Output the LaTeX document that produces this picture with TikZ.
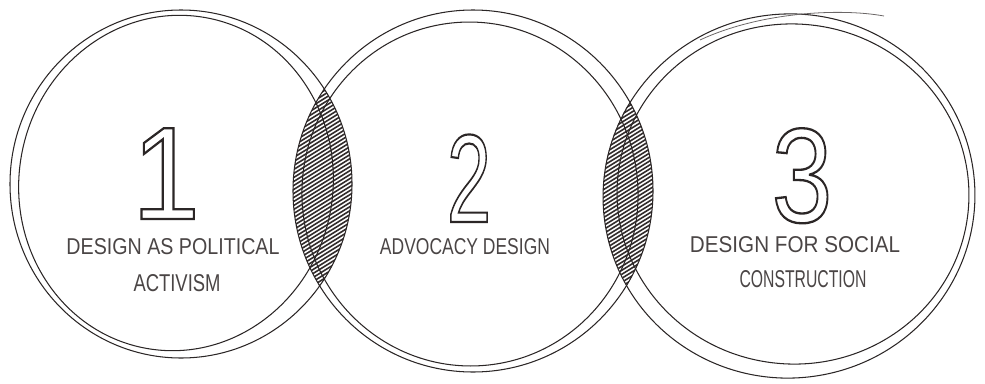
\documentclass[tikz,border=0pt]{standalone}
\usepackage{fontspec}
\setmainfont{Liberation Sans}
\usepackage{graphicx}
\definecolor{ink}{HTML}{2B2626}
\definecolor{txt}{HTML}{4A4545}
\definecolor{hatchc}{HTML}{322C2C}
\tikzset{
  rim/.style={draw=ink, line width=1.05pt},
  rimlight/.style={draw=ink!70, line width=0.8pt},
  hatchline/.style={draw=hatchc, line width=1.6pt},
  lab/.style={text=txt, inner sep=0pt, anchor=center},
  num/.style={text=ink, inner sep=0pt, anchor=base, font=\fontsize{128}{128}\selectfont}
}
\newcommand{\hollow}[1]{\special{pdf:code 1 Tr 2.2 w}#1\special{pdf:code 0 Tr}}
\begin{document}
\begin{tikzpicture}[x=1pt,y=-1pt]
\useasboundingbox (0,0) rectangle (985,383);
% hatched lens 1
\begin{scope}
  \clip (181,184) ellipse [x radius=171pt, y radius=174pt];
  \clip (473,191) ellipse [x radius=180pt, y radius=181pt];
  \foreach \k in {0,...,80} \draw[hatchline] (280,{50+4*\k}) -- ++(100,-62);
\end{scope}
% hatched lens 2
\begin{scope}
  \clip (473,191) ellipse [x radius=180pt, y radius=181pt];
  \clip (789,196) ellipse [x radius=186pt, y radius=182pt];
  \foreach \k in {0,...,80} \draw[hatchline] (590,{50+4*\k}) -- ++(100,-62);
\end{scope}
% circle 1
\draw[rim] (181,184) ellipse [x radius=171pt, y radius=174pt];
\draw[rim, rotate around={-10:(176,183)}] (176,183) ellipse [x radius=157pt, y radius=168pt];
% circle 2
\draw[rim] (473,191) ellipse [x radius=180pt, y radius=181pt];
\draw[rim, rotate around={6:(470,194)}] (470,194) ellipse [x radius=168pt, y radius=172pt];
% circle 3
\draw[rim, rotate around={8:(789,196)}] (789,196) ellipse [x radius=186pt, y radius=182pt];
\draw[rim, rotate around={-6:(793,194)}] (793,194) ellipse [x radius=176pt, y radius=170pt];
\draw[rimlight] (700,40) .. controls (760,12) and (840,8) .. (884,16);
% numbers
\node[num] (n1) at (166,219) {\scalebox{0.95}[1.03]{\hollow{1}}};
\node[num] (n2) at (469,222) {\scalebox{0.62}[0.98]{\hollow{2}}};
\node[num] (n3) at (802,222) {\scalebox{0.85}[1.05]{\hollow{3}}};
% labels
\node[lab] (l1a) at (173,247) {\resizebox{213pt}{16pt}{DESIGN AS POLITICAL}};
\node[lab] (l1b) at (177,283) {\resizebox{87pt}{17pt}{ACTIVISM}};
\node[lab] (l2) at (465,247) {\resizebox{170pt}{16pt}{ADVOCACY DESIGN}};
\node[lab] (l3a) at (795,245) {\resizebox{210pt}{16pt}{DESIGN FOR SOCIAL}};
\node[lab] (l3b) at (803,279) {\resizebox{127pt}{17pt}{CONSTRUCTION}};
\end{tikzpicture}
\end{document}
